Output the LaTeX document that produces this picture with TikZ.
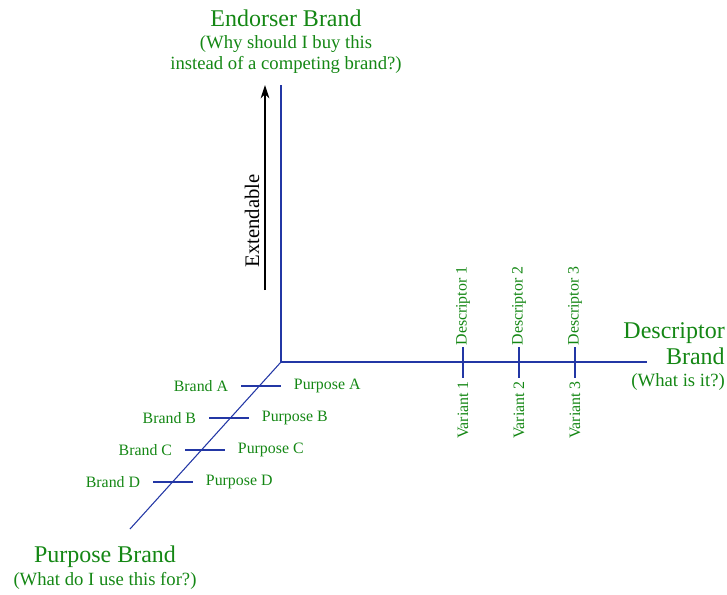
\documentclass[tikz,border=0pt]{standalone}
\usepackage{fontspec}
\setmainfont{Liberation Serif}
\usetikzlibrary{arrows.meta}
\definecolor{axisblue}{RGB}{35,55,165}
\definecolor{labelgreen}{RGB}{20,135,20}
\begin{document}
\begin{tikzpicture}[x=0.75pt,y=0.75pt,>={Stealth[length=10pt,width=6.5pt,inset=3pt]},
	axis/.style={draw=axisblue,line width=0.8pt},
	lbl/.style={text=labelgreen,font=\fontsize{11.9}{14}\selectfont,inner sep=0pt},
	ttl/.style={text=labelgreen,font=\fontsize{18}{20}\selectfont,inner sep=0pt},
	sub/.style={text=labelgreen,font=\fontsize{14}{15.75}\selectfont,inner sep=0pt}]
	\useasboundingbox (0,0) rectangle (727,-594);
	% axes
	\coordinate (O) at (281,-362);
	\coordinate (top) at (281,-85);
	\coordinate (right) at (647,-362);
	\coordinate (diag) at (130,-529);
	\draw[axis] (top)--(O)--(right);
	\draw[axis] (O)--(diag);
	% extendable arrow
	\coordinate (exlow) at (265,-290);
	\coordinate (exhigh) at (265,-85);
	\draw[->,line width=0.8pt] (exlow)--(exhigh);
	\node[rotate=90,font=\fontsize{15.5}{17}\selectfont,inner sep=0pt] (ext) at (252,-221) {Extendable};
	% titles
	\node[ttl] (endorser) at (286,-18) {Endorser Brand};
	\node[sub,align=center] (endorsersub) at (286,-54.5) {(Why should I buy this\\instead of a competing brand?)};
	\node[ttl,align=right,anchor=east] (descriptor) at (725,-343.5) {Descriptor\\Brand};
	\node[sub,anchor=east] (descriptorsub) at (725,-382) {(What is it?)};
	\node[ttl] (purpose) at (105,-557) {Purpose Brand};
	\node[sub] (purposesub) at (105,-581) {(What do I use this for?)};
	% descriptor ticks
	\foreach \n/\x in {1/463,2/519,3/575}{
		\coordinate (d\n) at (\x,-347);
		\coordinate (v\n) at (\x,-378);
		\draw[axis] (d\n)--(v\n);
		\node[lbl,rotate=90,anchor=west] (desc\n) at ([yshift=1pt]d\n) {Descriptor \n};
		\node[lbl,rotate=90,anchor=east] (var\n) at ([yshift=-2.25pt]v\n) {Variant \n};
	}
	% purpose ticks
	\foreach \n/\x/\y in {A/261/386,B/229/418,C/205/450,D/173/482}{
		\coordinate (bl\n) at (\x-20,-\y);
		\coordinate (br\n) at (\x+20,-\y);
		\draw[axis] (bl\n)--(br\n);
		\node[lbl,anchor=east] (brand\n) at ([xshift=-9.5pt]bl\n) {Brand \n};
		\node[lbl,anchor=west] (purp\n) at ([xshift=9.5pt]br\n) {Purpose \n};
	}
\end{tikzpicture}
\end{document}
